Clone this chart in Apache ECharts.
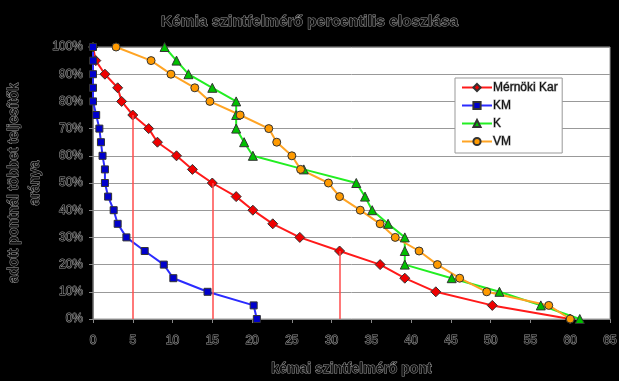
<!DOCTYPE html>
<html>
<head>
<meta charset="utf-8">
<script src="https://cdn.jsdelivr.net/npm/echarts@6/dist/echarts.min.js"></script>
<style>
html,body{margin:0;padding:0;background:#000;}
#c{width:619px;height:381px;}
</style>
</head>
<body>
<div id="c"></div>
<script>
// Shared y-values (share of students scoring more than the given points)
var pct = [1,0.95,0.9,0.85,0.8,0.75,0.7,0.65,0.6,0.55,0.5,0.45,0.4,0.35,0.3,0.25,0.2,0.15,0.1,0.05,0];
// x-values (points) per series
var mernokiKar = [0,0.35,1.5,3.1,3.6,5,7,8.1,10.5,12.5,15,18,20.1,22.6,26,31,36.1,39.2,43.1,50.2,60];
var km = [0,0,0,0,0,0.4,0.8,1,1.2,1.5,1.5,1.9,2.6,3.1,4.2,6.5,8.9,10.1,14.4,20.2,20.6];
var k = [9,10.5,12,15,18,18,18,19,20.1,26.5,33.1,34.2,35.1,37.1,39.2,39.2,39.2,45.1,51.1,56.3,61.2];
var vm = [2.9,7.3,9.8,12.8,14.7,18.5,22.1,23.1,25,26.1,29.6,31,33.6,36.1,38,41,43.3,46.1,49.5,57.3,60];
// drop lines on Mérnöki Kar curve
var dropX = [5,15,31];
var dropY = [0.75,0.5,0.25];
var seriesNames = ['Mérnöki Kar','KM','K','VM'];
var xTicks = {min:0, max:65, step:5};
var yTicks = {min:0, max:1, step:0.1};

function pairs(xs){ return xs.map(function(x,i){ return [x, pct[i]]; }); }

var FONT = 'Liberation Sans, Arial, sans-serif';
var txt = {color:'#111', fontFamily:FONT, textBorderColor:'#9a9a9a', textBorderWidth:1};
function T(extra){ var o={}; for(var a in txt) o[a]=txt[a]; for(var b in extra) o[b]=extra[b]; return o; }

var chart = echarts.init(document.getElementById('c'), null, {renderer:'canvas'});
var drops = dropX.map(function(x,i){ return [{coord:[x,dropY[i]]},{coord:[x,0]}]; });

var opt = {
  backgroundColor:'#000',
  animation:false,
  title:{text:'Kémia szintfelmérő percentilis eloszlása', left:'center', top:9,
    textStyle:T({fontSize:15.5, fontWeight:'bold'})},
  grid:{left:93, right:9, top:47, bottom:62, containLabel:false, outerBoundsMode:'none',
    show:true, backgroundColor:'#fff', borderColor:'#999', borderWidth:1},
  legend:{orient:'vertical', left:455, top:78, width:105,
    backgroundColor:'#fff', borderColor:'#999', borderWidth:1, padding:[3,4,5,6],
    itemWidth:30, itemHeight:9, itemGap:5,
    textStyle:T({fontSize:12, padding:[0,0,0,-4]}),
    data:seriesNames},
  xAxis:{type:'value', min:xTicks.min, max:xTicks.max, interval:xTicks.step,
    name:'kémai szintfelmérő pont', nameLocation:'middle', nameGap:43, nameMoveOverlap:false,
    nameTextStyle:T({fontSize:14, fontWeight:'bold'}),
    axisLine:{show:true, lineStyle:{color:'#888', width:1}},
    axisTick:{show:true, length:4, lineStyle:{color:'#888'}},
    axisLabel:T({fontSize:12, margin:16}),
    splitLine:{show:false}},
  yAxis:{type:'value', min:yTicks.min, max:yTicks.max, interval:yTicks.step,
    name:'adott pontnál többet teljesítők\naránya', nameLocation:'middle', nameGap:47, nameRotate:90,
    nameMoveOverlap:false,
    nameTextStyle:T({fontSize:14, fontWeight:'bold', lineHeight:21}),
    axisLine:{show:true, lineStyle:{color:'#888', width:1}},
    axisTick:{show:true, length:4, lineStyle:{color:'#888'}},
    axisLabel:T({fontSize:12, margin:10,
      formatter:function(v){ return Math.round(v*100)+'%'; }}),
    splitLine:{show:true, lineStyle:{color:'#999', width:1}}},
  series:[
    {name:seriesNames[0], type:'line', data:pairs(mernokiKar), symbol:'diamond', symbolSize:10,
      lineStyle:{color:'#ff1a1a', width:2}, itemStyle:{color:'#ee0000', borderColor:'#333', borderWidth:1},
      markLine:{silent:true, symbol:'none', label:{show:false}, lineStyle:{color:'#ff4d4d', width:1.5, type:'solid'}, data:drops}},
    {name:seriesNames[1], type:'line', data:pairs(km), symbol:'rect', symbolSize:7,
      lineStyle:{color:'#2b2bff', width:2}, itemStyle:{color:'#0000cc', borderColor:'#333', borderWidth:1}},
    {name:seriesNames[2], type:'line', data:pairs(k), symbol:'triangle', symbolSize:9,
      lineStyle:{color:'#22ee22', width:2}, itemStyle:{color:'#00c000', borderColor:'#333', borderWidth:1}},
    {name:seriesNames[3], type:'line', data:pairs(vm), symbol:'circle', symbolSize:8,
      lineStyle:{color:'#ffa424', width:2}, itemStyle:{color:'#ff9a00', borderColor:'#333', borderWidth:1}}
  ]
};
chart.setOption(opt);
</script>
</body>
</html>
